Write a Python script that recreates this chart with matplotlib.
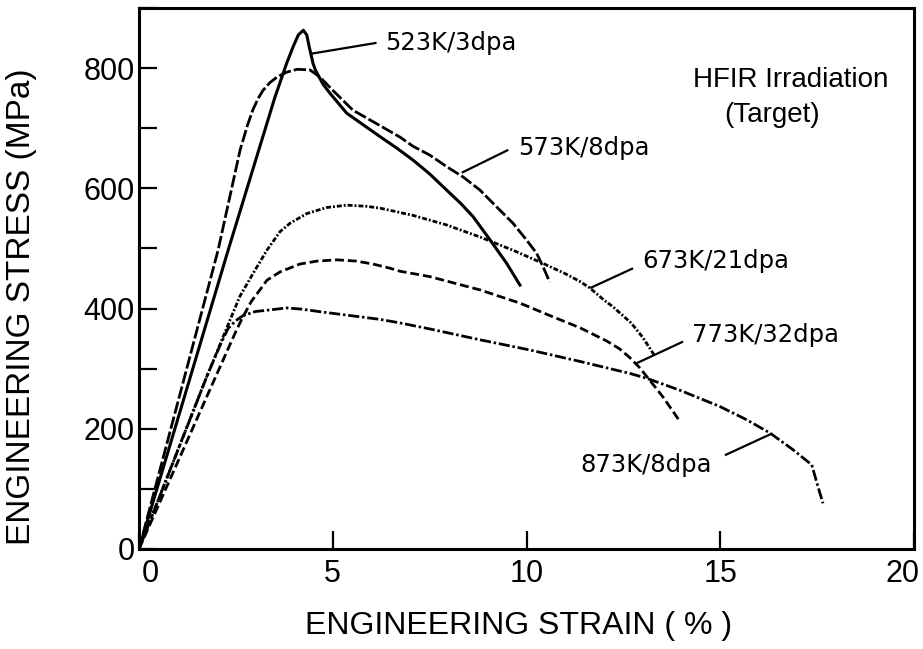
import matplotlib
matplotlib.use("Agg")
import matplotlib.pyplot as plt
import matplotlib.transforms as mtransforms
from matplotlib.ticker import MultipleLocator, FixedLocator

# Engineering stress-strain curves after HFIR irradiation
strain_523 = [0, 2.3, 3.5, 3.81, 3.98, 4.11, 4.24, 4.33, 4.39, 4.43, 4.49, 4.55,
              4.75, 4.93, 5.1, 5.36, 5.8, 6.22, 6.65, 7.07, 7.5, 7.94, 8.3, 8.62,
              9.06, 9.49, 9.83]
stress_523 = [0, 497, 750, 808, 836, 855, 863, 855, 836, 825, 808, 797,
              773, 758, 745, 725, 705, 686, 667, 647, 624, 597, 575, 553,
              514, 475, 439]

strain_573 = [0, 2.04, 2.61, 2.8, 2.94, 3.08, 3.2, 3.38, 3.56, 3.8, 4.08, 4.41,
              4.67, 5.0, 5.52, 6.2, 6.74, 7.07, 7.51, 7.94, 8.36, 8.8, 9.23,
              9.65, 10.0, 10.26, 10.43, 10.6]
stress_573 = [0, 497, 664, 705, 731, 750, 763, 776, 785, 793, 798, 797,
              785, 763, 730, 705, 685, 670, 655, 636, 619, 597, 569,
              542, 514, 492, 469, 444]

strain_673 = [0, 1.75, 2.1, 2.35, 2.6, 2.95, 3.3, 3.64, 3.9, 4.33, 4.84, 5.36,
              5.88, 6.22, 7.07, 7.94, 8.8, 9.65, 10.43, 11.0, 11.38, 11.64,
              12.0, 12.23, 12.7, 13.0, 13.3]
stress_673 = [0, 287, 342, 381, 420, 459, 497, 528, 542, 558, 568, 572,
              570, 567, 555, 539, 519, 497, 475, 458, 445, 434,
              414, 403, 376, 352, 322]

strain_773 = [0, 1.96, 2.5, 2.68, 2.9, 3.12, 3.3, 3.64, 4.15, 4.6, 5.1, 5.6,
              6.04, 6.48, 6.74, 7.51, 8.8, 9.83, 10.69, 11.38, 12.07, 12.4,
              12.67, 12.9, 13.14, 13.52, 13.96]
stress_773 = [0, 284, 362, 386, 412, 431, 447, 461, 474, 479, 481, 479,
              474, 467, 462, 453, 431, 409, 386, 368, 346, 333,
              318, 303, 284, 253, 212]

strain_873 = [0, 1.75, 2.1, 2.3, 2.5, 2.68, 3.0, 3.55, 3.8, 4.2, 4.75, 5.0,
              6.22, 6.74, 7.51, 8.8, 10.09, 11.38, 12.67, 13.1, 13.96, 14.99,
              15.68, 16.28, 16.88, 17.36, 17.4, 17.57, 17.65]
stress_873 = [0, 287, 340, 367, 380, 388, 395, 399, 401, 399, 394, 392,
              382, 376, 366, 348, 331, 312, 292, 284, 264, 237,
              215, 193, 165, 140, 131, 93, 76]

curve_labels = ["523K/3dpa", "573K/8dpa", "673K/21dpa", "773K/32dpa", "873K/8dpa"]

x_ticks = [0, 5, 10, 15, 20]
y_ticks = [0, 200, 400, 600, 800]

TEXT_FONT = ["Liberation Sans", "DejaVu Sans"]
LABEL_FONT = ["DejaVu Sans"]

fig = plt.figure(figsize=(9.23, 6.49), dpi=100)
ax = fig.add_axes([0.1506, 0.1541, 0.8397, 0.8336])

ax.plot(strain_523, stress_523, color="black", lw=2.2, linestyle="-",
        solid_joinstyle="round")
ax.plot(strain_573, stress_573, color="black", lw=2.0, linestyle=(0, (4.5, 1.1)))
ax.plot(strain_673, stress_673, color="black", lw=2.0,
        linestyle=(0, (1.8, 0.7, 0.7, 0.7)))
ax.plot(strain_773, stress_773, color="black", lw=2.0, linestyle=(0, (3.2, 1.4)))
ax.plot(strain_873, stress_873, color="black", lw=2.0,
        linestyle=(0, (4.0, 1.0, 0.9, 1.0)))

# leader lines: (point on curve) -> (end near label), label anchor
leaders = [
    ((4.45, 824), (6.13, 842), (6.35, 842), "left"),
    ((8.33, 626), (9.53, 664), (9.78, 667), "left"),
    ((11.64, 434), (12.75, 467), (12.98, 479), "left"),
    ((12.84, 309), (14.04, 345), (14.27, 356), "left"),
    ((16.33, 192), (15.12, 156), (14.79, 140), "right"),
]
for text, (p0, p1, pt, ha) in zip(curve_labels, leaders):
    ax.plot([p0[0], p1[0]], [p0[1], p1[1]], color="black", lw=1.6,
            solid_capstyle="butt")
    ax.text(pt[0], pt[1], text, ha=ha, va="center", fontsize=17.5,
            family=LABEL_FONT)

ax.text(0.841, 0.867, "HFIR Irradiation", transform=ax.transAxes, ha="center",
        va="center", fontsize=20, family=TEXT_FONT)
ax.text(0.817, 0.802, "(Target)", transform=ax.transAxes, ha="center",
        va="center", fontsize=20, family=TEXT_FONT)

ax.set_xlim(0, 20)
ax.set_ylim(0, 900)
ax.xaxis.set_major_locator(FixedLocator(x_ticks))
ax.yaxis.set_major_locator(FixedLocator(y_ticks))
ax.yaxis.set_minor_locator(MultipleLocator(100))
ax.set_xticklabels([str(v) for v in x_ticks])
ax.set_yticklabels([str(v) for v in y_ticks])

ax.tick_params(axis="x", which="both", direction="in", length=13, width=1.6,
               pad=7, labelsize=22, top=False)
ax.tick_params(axis="y", which="both", direction="in", length=13, width=1.6,
               pad=3, labelsize=22, right=False)
for lbl in ax.get_xticklabels() + ax.get_yticklabels():
    lbl.set_family(TEXT_FONT)

# the end labels of the strain axis sit slightly inside the frame
xlabels = ax.get_xticklabels()
xlabels[0].set_transform(xlabels[0].get_transform() +
                         mtransforms.ScaledTranslation(11 / 100, 0, fig.dpi_scale_trans))
xlabels[-1].set_transform(xlabels[-1].get_transform() +
                          mtransforms.ScaledTranslation(-12 / 100, 0, fig.dpi_scale_trans))

for sp in ax.spines.values():
    sp.set_linewidth(2.2)

ax.set_xlabel("ENGINEERING STRAIN ( % )", fontsize=23, family=TEXT_FONT)
ax.set_ylabel("ENGINEERING STRESS (MPa)", fontsize=24, family=TEXT_FONT)
ax.xaxis.set_label_coords(0.49, -0.143)
ax.xaxis.label.set_verticalalignment("center")
ax.yaxis.set_label_coords(-0.151, 0.447)
ax.yaxis.label.set_verticalalignment("center")

fig.savefig("out.png", dpi=100)
